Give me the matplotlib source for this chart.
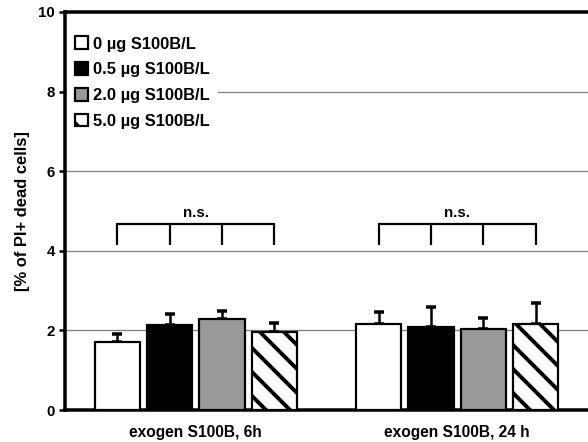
import matplotlib
matplotlib.use("Agg")
import matplotlib.pyplot as plt
import numpy as np

groups = ["exogen S100B, 6h", "exogen S100B, 24 h"]
series = ["0 µg S100B/L", "0.5 µg S100B/L", "2.0 µg S100B/L", "5.0 µg S100B/L"]
means = [
    [1.72, 2.16],
    [2.14, 2.09],
    [2.28, 2.04],
    [1.95, 2.16],
]
errs = [
    [0.19, 0.31],
    [0.27, 0.49],
    [0.22, 0.26],
    [0.24, 0.54],
]
fills = ["white", "black", "#999999", "white"]
hatches = [None, None, None, "\\"]
ns_labels = ["n.s.", "n.s."]

plt.rcParams["font.family"] = ["Liberation Sans", "DejaVu Sans"]
plt.rcParams["font.weight"] = "bold"
plt.rcParams["hatch.linewidth"] = 4.0
plt.rcParams["hatch.color"] = "black"

# 72 dpi so hatch spacing matches the original stripes
fig = plt.figure(figsize=(588 / 72, 442 / 72), dpi=72)
ax = fig.add_axes([65 / 588, 32 / 442, 523 / 588, 398 / 442])

x = np.arange(len(groups))
width = 0.173
offsets = [-0.3, -0.1, 0.1, 0.3]

for i in range(len(series)):
    ax.bar(x + offsets[i], means[i], width, color=fills[i], edgecolor="black",
           linewidth=2.2, hatch=hatches[i], label=series[i], zorder=3)
    ax.errorbar(x + offsets[i], means[i], yerr=[[0] * len(groups), errs[i]],
                fmt="none", ecolor="black", elinewidth=2.5, capsize=5,
                capthick=3.5, zorder=2)

# significance brackets
for g in range(len(groups)):
    xs = x[g] + np.array(offsets)
    ax.plot([xs[0], xs[-1]], [4.67, 4.67], color="black", lw=2.2, zorder=4,
            solid_capstyle="projecting")
    for xx in xs:
        ax.plot([xx, xx], [4.15, 4.67], color="black", lw=2.2, zorder=4,
                solid_capstyle="butt")
    ax.text(x[g], 4.86, ns_labels[g], ha="center", va="baseline",
            fontsize=15, fontweight="bold")

ax.set_xlim(-0.5, 1.5)
ax.set_ylim(0, 10)
ax.set_yticks([0, 2, 4, 6, 8, 10])
ax.set_xticks(x)
ax.set_xticklabels(groups, fontsize=15.5, fontweight="bold")
ax.tick_params(axis="x", length=0, pad=15)
ax.tick_params(axis="y", direction="out", length=6, width=2.5,
               labelsize=15, pad=4)
for lab in ax.get_yticklabels():
    lab.set_fontweight("bold")

ax.yaxis.grid(True, color="#808080", linewidth=1.3, zorder=0)
ax.set_axisbelow(True)

ax.spines["right"].set_visible(False)
for s in ["left", "bottom", "top"]:
    ax.spines[s].set_linewidth(3.5)

ax.set_ylabel("[% of PI+ dead cells]", fontsize=16.5, fontweight="bold",
              labelpad=8)

leg = ax.legend(loc="upper left", bbox_to_anchor=(-0.012, 0.98),
                fontsize=16.5, frameon=True, facecolor="white",
                edgecolor="none", framealpha=1, handlelength=0.8,
                handleheight=0.8, handletextpad=0.25, labelspacing=0.65,
                borderpad=0.5)
for t in leg.get_texts():
    t.set_fontweight("bold")

fig.savefig("out.png", dpi=72)
